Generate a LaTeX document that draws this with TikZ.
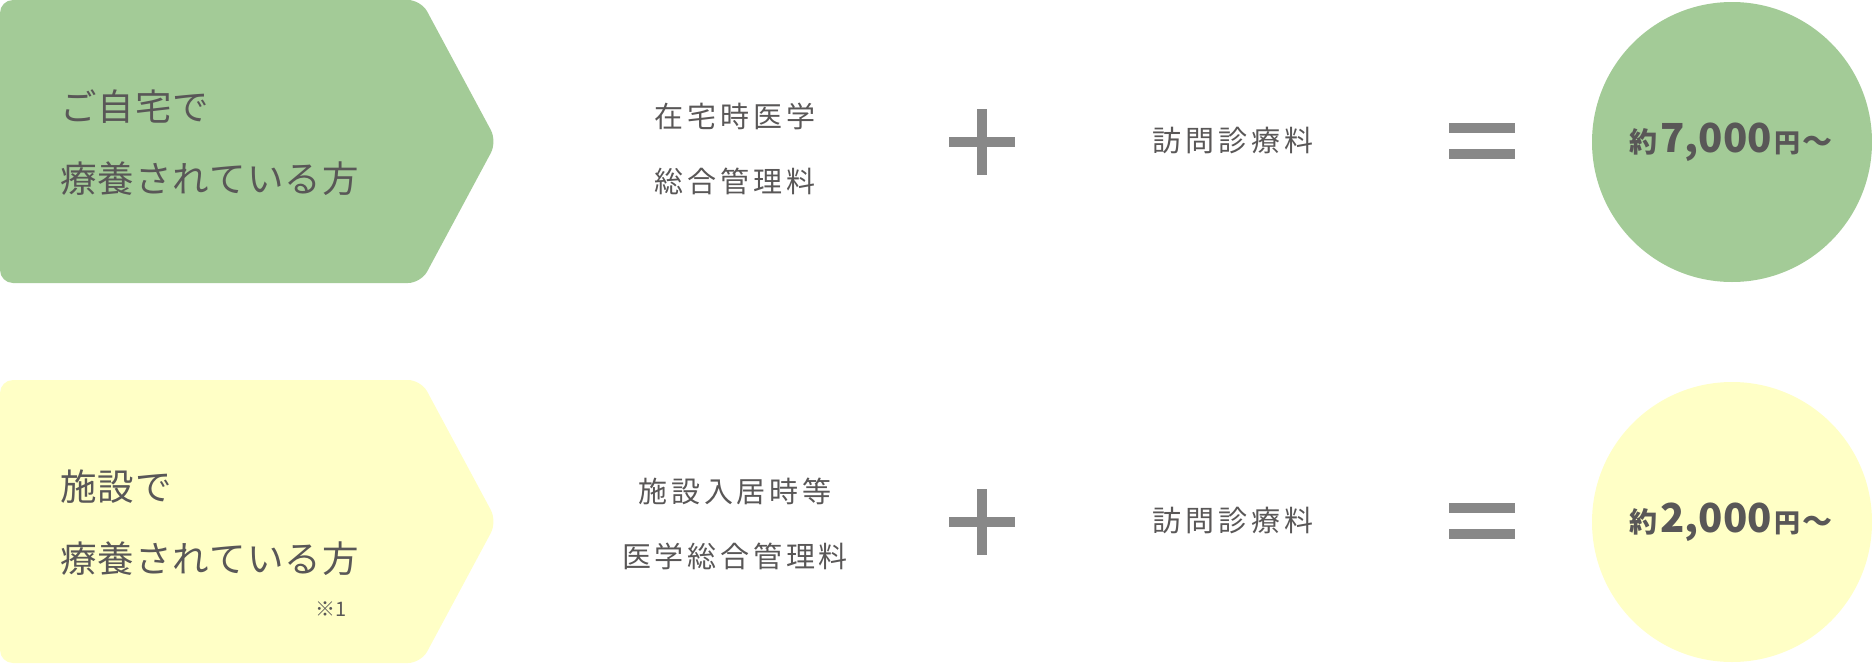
\documentclass[tikz,border=0pt]{standalone}
\usepackage{fontspec}
\setmainfont{Noto Sans CJK JP}
\newfontfamily\jpmid[LetterSpace=13]{Noto Sans CJK JP}
\newfontfamily\jplbl[LetterSpace=3]{Noto Sans CJK JP}
\definecolor{grn}{HTML}{A3CB97}
\definecolor{ylw}{HTML}{FFFFC6}
\definecolor{txt}{HTML}{595757}
\definecolor{sym}{HTML}{888888}
\tikzset{
  lbl/.style={text=txt, inner sep=0pt, font=\jplbl\fontsize{36.5}{72}\selectfont, align=left, anchor=west},
  midtxt/.style={text=txt, inner sep=0pt, font=\jpmid\fontsize{29}{65}\selectfont, align=center},
  hbar/.style={rectangle, fill=sym, inner sep=0pt, minimum width=66pt, minimum height=10pt},
  vbar/.style={rectangle, fill=sym, inner sep=0pt, minimum width=10pt, minimum height=66pt},
  price/.style={circle, inner sep=0pt, minimum size=280pt},
  pricetxt/.style={text=txt, inner sep=0pt, anchor=base, font=\bfseries},
}
\newcommand{\pricelabel}[1]{{\fontsize{28}{28}\selectfont 約}\hspace{3pt}{\fontsize{40}{40}\selectfont #1}\hspace{3pt}{\fontsize{26}{26}\selectfont 円}\hspace{2pt}{\fontsize{30}{30}\selectfont 〜}}
\begin{document}
\begin{tikzpicture}[x=1pt,y=-1pt]
\useasboundingbox (0,0) rectangle (1872,664);
% row 1
\fill[grn, rounded corners=13pt] (0,0) -- (421,0) -- (497,141.5) -- (421,283) -- (0,283) -- cycle;
\node[lbl] (home) at (60,143) {ご自宅で\\療養されている方};
\node[midtxt] (homefee) at (735,148.5) {在宅時医学\\総合管理料};
\node[hbar] (plusAh) at (982,142) {};
\node[vbar] (plusAv) at (982,142) {};
\node[midtxt] (visitA) at (1233,141) {訪問診療料};
\node[hbar] (eqAt) at (1482,128) {};
\node[hbar] (eqAb) at (1482,154) {};
\node[price, fill=grn] (circA) at (1732,142) {};
\node[pricetxt] (priceA) at (1731,152) {\pricelabel{7,000}};
% row 2
\fill[ylw, rounded corners=13pt] (0,380) -- (421,380) -- (497,521.5) -- (421,663) -- (0,663) -- cycle;
\node[lbl] (facility) at (60,522.5) {施設で\\療養されている方};
\node[text=txt, inner sep=0pt, font=\fontsize{20}{20}\selectfont] (note) at (331,609) {※1};
\node[midtxt] (facfee) at (735,524) {施設入居時等\\医学総合管理料};
\node[hbar] (plusBh) at (982,522) {};
\node[vbar] (plusBv) at (982,522) {};
\node[midtxt] (visitB) at (1233,521) {訪問診療料};
\node[hbar] (eqBt) at (1482,508) {};
\node[hbar] (eqBb) at (1482,534) {};
\node[price, fill=ylw] (circB) at (1732,522) {};
\node[pricetxt] (priceB) at (1731,532) {\pricelabel{2,000}};
\end{tikzpicture}
\end{document}
